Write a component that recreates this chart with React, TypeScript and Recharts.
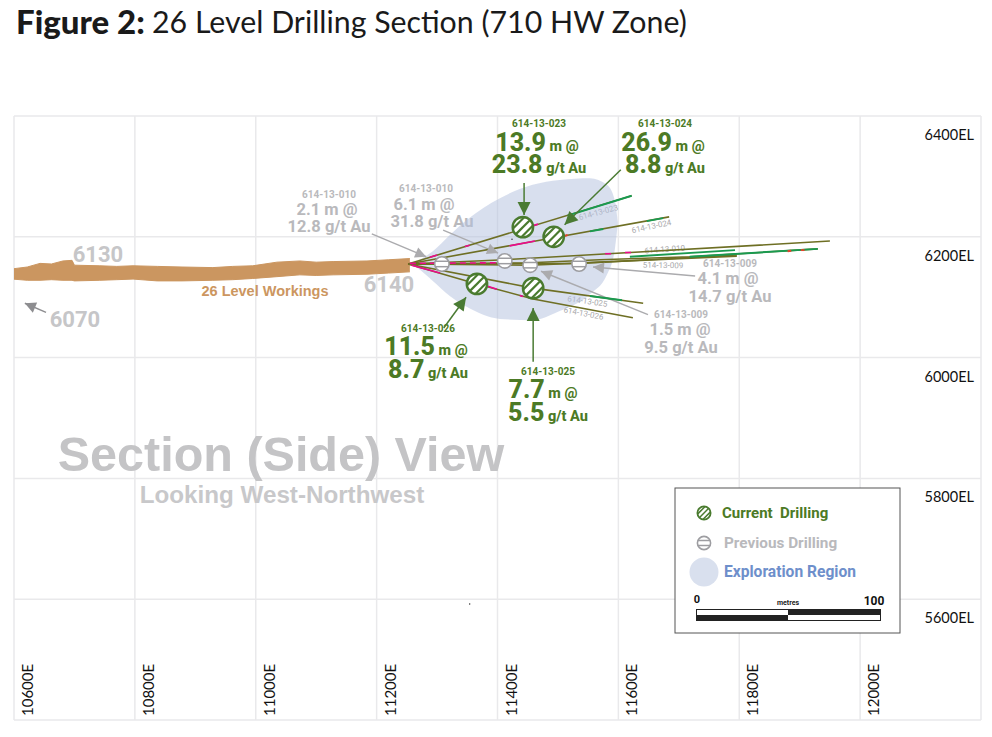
import { Area, CartesianGrid, ComposedChart, Line, Scatter, XAxis, YAxis } from "recharts";

// grid ticks, metres
const eastTicks = [10600, 10800, 11000, 11200, 11400, 11600, 11800, 12000, 12200];
const elevTicks = [5400, 5600, 5800, 6000, 6200, 6400];

// 26 level drift outline
const workings = [
  { e: 10598, band: [6130, 6147] },
  { e: 10622, band: [6128, 6150] },
  { e: 10643, band: [6128, 6156] },
  { e: 10662, band: [6129, 6155] },
  { e: 10681, band: [6128, 6160] },
  { e: 10696, band: [6128, 6161] },
  { e: 10700, band: [6127, 6153] },
  { e: 10742, band: [6128, 6152] },
  { e: 10770, band: [6129, 6151] },
  { e: 10797, band: [6130, 6152] },
  { e: 10837, band: [6127, 6151] },
  { e: 10878, band: [6127, 6150] },
  { e: 10929, band: [6128, 6149] },
  { e: 10962, band: [6129, 6151] },
  { e: 10995, band: [6131, 6152] },
  { e: 11035, band: [6134, 6158] },
  { e: 11073, band: [6137, 6160] },
  { e: 11100, band: [6136, 6158] },
  { e: 11128, band: [6137, 6159] },
  { e: 11184, band: [6138, 6160] },
  { e: 11220, band: [6140, 6162] },
  { e: 11255, band: [6142, 6164] },
];

const explorationRegion = [
  { e: 11262, band: [6152, 6156] },
  { e: 11268, band: [6148, 6160] },
  { e: 11293, band: [6127, 6176] },
  { e: 11321, band: [6102, 6203] },
  { e: 11349, band: [6084, 6228] },
  { e: 11404, band: [6064, 6264] },
  { e: 11458, band: [6062, 6286] },
  { e: 11503, band: [6077, 6294] },
  { e: 11553, band: [6105, 6297] },
  { e: 11581, band: [6137, 6286] },
  { e: 11594, band: [6178, 6261] },
  { e: 11599, band: [6221, 6224] },
];

// drill traces
const hole023 = [{ e: 11252, el: 6155 }, { e: 11622, el: 6268 }];
const hole024 = [{ e: 11252, el: 6155 }, { e: 11684, el: 6233 }];
const hole010a = [{ e: 11252, el: 6155 }, { e: 11412, el: 6162 }, { e: 11569, el: 6171 }, { e: 11950, el: 6193 }];
const hole010b = [{ e: 11252, el: 6155 }, { e: 11454, el: 6157 }, { e: 11569, el: 6162 }, { e: 11718, el: 6167 }, { e: 11930, el: 6180 }];
const hole009a = [{ e: 11252, el: 6155 }, { e: 11535, el: 6156 }, { e: 11652, el: 6162 }, { e: 11796, el: 6170 }];
const hole009b = [{ e: 11252, el: 6155 }, { e: 11454, el: 6153 }, { e: 11569, el: 6158 }, { e: 11796, el: 6168 }];
const hole025 = [{ e: 11252, el: 6155 }, { e: 11459, el: 6115 }, { e: 11641, el: 6090 }];
const hole026 = [{ e: 11252, el: 6155 }, { e: 11366, el: 6122 }, { e: 11459, el: 6097 }, { e: 11624, el: 6066 }];
const holes = [hole023, hole024, hole010a, hole010b, hole009a, hole009b, hole025, hole026];

// assay intervals along the traces
const pinkIntervals = [
  [{ e: 11288, el: 6166 }, { e: 11300, el: 6170 }],
  [{ e: 11346, el: 6184 }, { e: 11354, el: 6186 }],
  [{ e: 11454, el: 6217 }, { e: 11467, el: 6221 }],
  [{ e: 11420, el: 6185 }, { e: 11462, el: 6193 }],
  [{ e: 11258, el: 6153 }, { e: 11305, el: 6140 }],
  [{ e: 11384, el: 6118 }, { e: 11399, el: 6113 }],
  [{ e: 11437, el: 6103 }, { e: 11442, el: 6101 }],
  [{ e: 11578, el: 6172 }, { e: 11588, el: 6172 }],
  [{ e: 11611, el: 6174 }, { e: 11621, el: 6174 }],
];
const pinkDashed = [{ e: 11255, el: 6156 }, { e: 11404, el: 6157 }];
const greenIntervals = [
  [{ e: 11516, el: 6235 }, { e: 11622, el: 6268 }],
  [{ e: 11553, el: 6209 }, { e: 11575, el: 6213 }],
  [{ e: 11647, el: 6226 }, { e: 11674, el: 6231 }],
  [{ e: 11619, el: 6167 }, { e: 11793, el: 6178 }],
  [{ e: 11718, el: 6167 }, { e: 11930, el: 6180 }],
  [{ e: 11553, el: 6102 }, { e: 11606, el: 6095 }],
];
const redIntervals = [
  [{ e: 11880, el: 6176 }, { e: 11886, el: 6177 }],
  [{ e: 11902, el: 6178 }, { e: 11908, el: 6178 }],
  [{ e: 11510, el: 6201 }, { e: 11516, el: 6203 }],
];

const currentHits = [
  { e: 11442, el: 6216 },
  { e: 11493, el: 6200 },
  { e: 11366, el: 6122 },
  { e: 11459, el: 6115 },
];
const previousHits = [
  { e: 11308, el: 6155 },
  { e: 11412, el: 6160 },
  { e: 11454, el: 6153 },
  { e: 11535, el: 6155 },
];
const specks = [
  { e: 11424, el: 6196 },
  { e: 11354, el: 5592 },
];

const greenArrows = [
  [{ e: 11444, el: 6289 }, { e: 11444, el: 6236 }],
  [{ e: 11604, el: 6311 }, { e: 11511, el: 6220 }],
  [{ e: 11311, el: 6049 }, { e: 11348, el: 6100 }],
  [{ e: 11459, el: 5993 }, { e: 11459, el: 6082 }],
];
const greyArrows = [
  [{ e: 11192, el: 6205 }, { e: 11282, el: 6167 }],
  [{ e: 11310, el: 6211 }, { e: 11401, el: 6173 }],
  [{ e: 11727, el: 6135 }, { e: 11558, el: 6150 }],
  [{ e: 11649, el: 6071 }, { e: 11472, el: 6143 }],
];
const levelArrow = [{ e: 10653, el: 6075 }, { e: 10618, el: 6090 }];

const OLIVE = "#6e6f24";
const GREEN = "#4c7a25";
const GREY = "#b9b9bc";
const SANS = "Roboto, sans-serif";
const ARIAL = "'Liberation Sans', sans-serif";
const CALIBRI = "Lato, sans-serif";

function Hatch({ cx, cy, r, color, angle, gap, sw, ring }: any) {
  const offs = angle ? [-gap, 0, gap] : [-gap / 2, gap / 2];
  return (
    <g transform={`translate(${cx},${cy}) rotate(${angle})`}>
      <circle r={r} fill="#fff" stroke={color} strokeWidth={ring} />
      {offs.map((d) => {
        const h = Math.sqrt(r * r - d * d);
        return <line key={d} x1={-h} x2={h} y1={d} y2={d} stroke={color} strokeWidth={sw} />;
      })}
    </g>
  );
}

const CurrentHit = (p: any) => <Hatch cx={p.cx} cy={p.cy} r={10.2} color="#4a7b2f" angle={-45} gap={6} sw={2.2} ring={2.4} />;
const PreviousHit = (p: any) => <Hatch cx={p.cx} cy={p.cy} r={7.2} color="#9d9da1" angle={0} gap={5.4} sw={1.5} ring={1.6} />;
const Speck = (p: any) => <circle cx={p.cx} cy={p.cy} r={0.7} fill="#222" />;

function arrowLine(points: any[], color: string, width: number, head: number, key: string) {
  const angle = (Math.atan2(points[0].el - points[1].el, points[1].e - points[0].e) * 180) / Math.PI;
  return (
    <Line
      key={key}
      data={points}
      dataKey="el"
      stroke={color}
      strokeWidth={width}
      isAnimationActive={false}
      activeDot={false}
      dot={(p: any) =>
        p.index === 1 ? (
          <path key={key} transform={`translate(${p.cx},${p.cy}) rotate(${angle})`} d={`M0,0 L${-head},${-head / 2} L${-head},${head / 2} Z`} fill={color} />
        ) : (
          <g key={p.index} />
        )
      }
    />
  );
}

function segment(points: any[], color: string, key: string, width = 1.6, dash?: string) {
  return <Line key={key} data={points} dataKey="el" stroke={color} strokeWidth={width} strokeDasharray={dash} dot={false} activeDot={false} isAnimationActive={false} />;
}

function Assay({ x, y, big, unit }: any) {
  return (
    <text x={x} y={y} textAnchor="middle" fontFamily={SANS} fontWeight={800} fill={GREEN} fontSize={25}>
      {big}
      <tspan fontSize={14.5}> {unit}</tspan>
    </text>
  );
}

function Note({ x, y, children, size = 16, fill = GREY, angle = 0, family = SANS, weight = 700, anchor = "middle" }: any) {
  return (
    <text x={x} y={y} transform={angle ? `rotate(${angle} ${x} ${y})` : undefined} textAnchor={anchor} fontFamily={family} fontWeight={weight} fontSize={size} fill={fill}>
      {children}
    </text>
  );
}

const EastTick = ({ x, payload }: any) =>
  payload.value === 12200 ? (
    <g />
  ) : (
    <text transform={`translate(${x + 19},716) rotate(-90)`} fontFamily={CALIBRI} fontSize={15} fill="#111">
      {payload.value}E
    </text>
  );

const ElevTick = ({ y, payload }: any) =>
  payload.value === 5400 ? (
    <g />
  ) : (
    <text x={974} y={y + 24} textAnchor="end" fontFamily={CALIBRI} fontSize={14.5} fill="#111">
      {payload.value}EL
    </text>
  );

export default function App() {
  return (
    <div style={{ position: "absolute", left: 0, top: 0, width: 992, height: 737, background: "#fff" }}>
      <div style={{ position: "absolute", left: 16, top: 1, whiteSpace: "nowrap", fontFamily: CALIBRI, fontSize: 33, fontWeight: 900, color: "#1a1a1a" }}>Figure 2:</div>
      <div style={{ position: "absolute", left: 152, top: 3, whiteSpace: "nowrap", fontFamily: CALIBRI, fontSize: 30.3, color: "#1a1a1a" }}>26 Level Drilling Section (710 HW Zone)</div>
      <ComposedChart width={992} height={737} margin={{ top: 116, right: 10, bottom: 16, left: 14 }} data={workings}>
        <CartesianGrid stroke="#e9e9eb" strokeWidth={1.5} />
        <XAxis dataKey="e" type="number" domain={[10600, 12200]} ticks={eastTicks} interval={0} height={1} axisLine={false} tickLine={false} tick={EastTick} allowDataOverflow />
        <YAxis dataKey="el" type="number" orientation="right" domain={[5400, 6400]} ticks={elevTicks} interval={0} width={1} axisLine={false} tickLine={false} tick={ElevTick} />

        <Area data={explorationRegion} dataKey="band" type="monotone" fill="#b4c2de" fillOpacity={0.52} stroke="none" isAnimationActive={false} activeDot={false} />
        <Area data={workings} dataKey="band" type="linear" fill="#cb9660" fillOpacity={1} stroke="#cb9660" strokeWidth={1} isAnimationActive={false} activeDot={false} />

        {greyArrows.map((a, i) => arrowLine(a, "#ababae", 1.4, 11, `grey${i}`))}
        {arrowLine(levelArrow, "#8d8d90", 1.4, 11, "level")}

        {holes.map((h, i) => segment(h, OLIVE, `hole${i}`))}
        {pinkIntervals.map((h, i) => segment(h, "#ec0a8c", `pink${i}`))}
        {segment(pinkDashed, "#ec0a8c", "pinkdash", 1.6, "6 4")}
        {greenIntervals.map((h, i) => segment(h, "#1a9a50", `green${i}`, 1.9))}
        {redIntervals.map((h, i) => segment(h, "#e2442c", `red${i}`, 1.9))}

        <Scatter data={previousHits} shape={PreviousHit} isAnimationActive={false} />
        <Scatter data={currentHits} shape={CurrentHit} isAnimationActive={false} />
        <Scatter data={specks} shape={Speck} isAnimationActive={false} />
        {greenArrows.map((a, i) => arrowLine(a, "#4a7b33", 1.5, 13, `green-arrow${i}`))}

        <Note x={98} y={262} size={22} fill="#c6c6c8">6130</Note>
        <Note x={389} y={292} size={22} fill="#c6c6c8">6140</Note>
        <Note x={75} y={327} size={22} fill="#c6c6c8">6070</Note>
        <Note x={265} y={296} size={14.5} fill="#cc9660" family={ARIAL}>26 Level Workings</Note>

        <Note x={539} y={127} size={10} fill={GREEN}>614-13-023</Note>
        <Assay x={537} y={151} big="13.9" unit="m @" />
        <Assay x={539} y={173} big="23.8" unit="g/t Au" />
        <Note x={665} y={127} size={10} fill={GREEN}>614-13-024</Note>
        <Assay x={663} y={151} big="26.9" unit="m @" />
        <Assay x={665} y={173} big="8.8" unit="g/t Au" />
        <Note x={428} y={332} size={10} fill={GREEN}>614-13-026</Note>
        <Assay x={426} y={355} big="11.5" unit="m @" />
        <Assay x={428} y={378} big="8.7" unit="g/t Au" />
        <Note x={548} y={375} size={10} fill={GREEN}>614-13-025</Note>
        <Assay x={543} y={398} big="7.7" unit="m @" />
        <Assay x={548} y={421} big="5.5" unit="g/t Au" />

        <Note x={329} y={198} size={10}>614-13-010</Note>
        <Note x={327} y={215} size={16.5}>2.1 m @</Note>
        <Note x={329} y={232} size={16.5}>12.8 g/t Au</Note>
        <Note x={426} y={192} size={10}>614-13-010</Note>
        <Note x={424} y={210} size={16.5}>6.1 m @</Note>
        <Note x={432} y={227} size={16.5}>31.8 g/t Au</Note>
        <Note x={730} y={267} size={10}>614-13-009</Note>
        <Note x={728} y={284} size={16.5}>4.1 m @</Note>
        <Note x={730} y={302} size={16.5}>14.7 g/t Au</Note>
        <Note x={681} y={318} size={10}>614-13-009</Note>
        <Note x={680} y={335} size={16.5}>1.5 m @</Note>
        <Note x={681} y={353} size={16.5}>9.5 g/t Au</Note>

        <Note x={599} y={215} size={8} weight={400} fill="#a9a9ac" angle={-15}>614-13-023</Note>
        <Note x={652} y={229} size={8} weight={400} fill="#a9a9ac" angle={-12}>614-13-024</Note>
        <Note x={665} y={252} size={8} weight={400} fill="#a9a9ac" angle={-4}>614-13-010</Note>
        <Note x={663} y={268} size={8} weight={400} fill="#a9a9ac" angle={1}>514-13-009</Note>
        <Note x={587} y={304} size={8} weight={400} fill="#a9a9ac" angle={8}>614-13-025</Note>
        <Note x={583} y={316} size={8} weight={400} fill="#a9a9ac" angle={11}>614-13-026</Note>

        <Note x={281} y={471} size={48.5} fill="#c4c4c6" family={ARIAL}>Section (Side) View</Note>
        <Note x={282} y={503} size={24.2} fill="#c8c8ca" family={ARIAL}>Looking West-Northwest</Note>

        <rect x={675} y={488} width={225} height={145} fill="#fff" stroke="#555" strokeWidth={1} />
        <Hatch cx={704} cy={513} r={6.6} color="#4a7b2f" angle={-45} gap={3.8} sw={1.5} ring={1.8} />
        <Hatch cx={704} cy={543} r={6.6} color="#9d9da1" angle={0} gap={5} sw={1.5} ring={1.6} />
        <circle cx={704} cy={572} r={14.5} fill="#d9e0ee" />
        <Note x={722} y={518} size={15} anchor="start" fill={GREEN}>{"Current\u00a0\u00a0Drilling"}</Note>
        <Note x={724} y={548} size={15.3} anchor="start">Previous Drilling</Note>
        <Note x={724} y={577} size={15.6} anchor="start" fill="#6e8fcb">Exploration Region</Note>
        <Note x={697} y={603} size={11} fill="#111">0</Note>
        <Note x={874} y={605} size={12} fill="#111">100</Note>
        <Note x={788} y={605} size={7} fill="#222">metres</Note>
        <rect x={696.5} y={609.5} width={184} height={11} fill="#fff" stroke="#222" strokeWidth={1} />
        <rect x={788} y={609} width={93} height={6} fill="#222" />
        <rect x={696} y={615} width={92} height={6} fill="#222" />
      </ComposedChart>
    </div>
  );
}
